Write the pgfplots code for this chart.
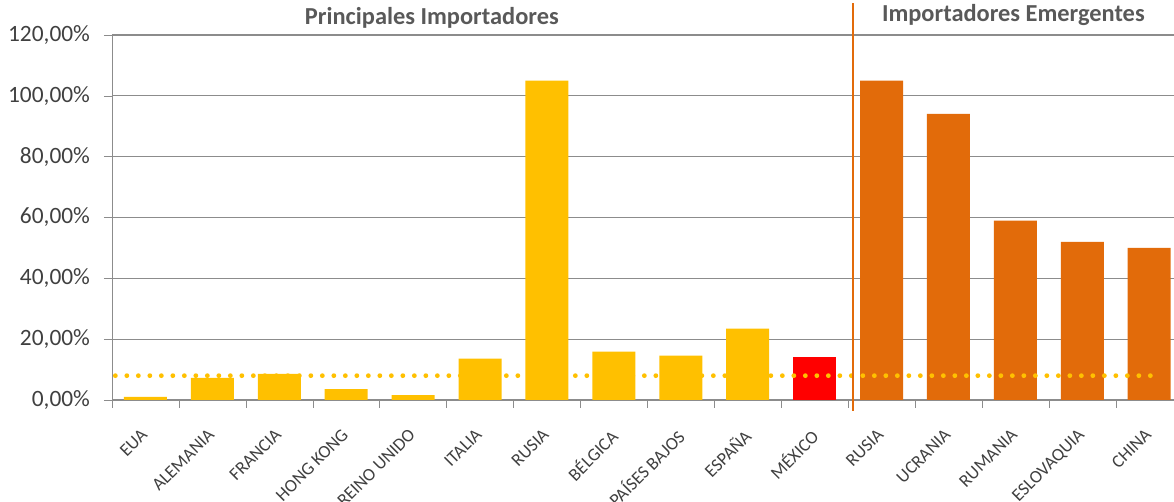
\documentclass[border=0pt]{standalone}
\usepackage{fontspec}
\setmainfont{Carlito}
\usepackage{pgfplots}
\pgfplotsset{compat=1.18}
\definecolor{amarillo}{HTML}{FFC000}
\definecolor{naranja}{HTML}{E26B0A}
\definecolor{rojo}{HTML}{FF0000}
\definecolor{rejilla}{HTML}{8C8C8C}
\definecolor{texto}{HTML}{404040}
\definecolor{titulo}{HTML}{595959}

\begin{document}
\begin{tikzpicture}
\path[use as bounding box] (-56pt,-51pt) rectangle (531pt,200pt);
\begin{axis}[
  scale only axis,
  width=531pt, height=182.5pt,
  xmin=-0.5, xmax=15.37,
  ymin=0, ymax=120,
  clip=false,
  axis x line=bottom, axis y line=left,
  axis line style={rejilla, -},
  ytick={0,20,...,120},
  ymajorgrids, grid style={rejilla, line width=0.6pt},
  ytick style={rejilla}, major tick length=4pt,
  tick align=outside,
  /pgf/number format/assume math mode=true,
  yticklabel={\pgfmathprintnumber[fixed,fixed zerofill,precision=2,use comma]{\tick}\%},
  yticklabel style={font=\fontsize{11.7}{14}\selectfont, text=texto, xshift=-3.5pt},
  xtick={0,...,15},
  xticklabels={EUA, ALEMANIA, FRANCIA, HONG KONG, REINO UNIDO, ITALIA, RUSIA, BÉLGICA, PAÍSES BAJOS, ESPAÑA, MÉXICO, RUSIA, UCRANIA, RUMANIA, ESLOVAQUIA, CHINA},
  xticklabel style={font=\fontsize{9}{10}\selectfont, text=texto, rotate=45, anchor=north east, inner sep=1pt, yshift=-3.9pt, xshift=-7.7pt},
  x tick style={draw=none},
  minor xtick={-0.5,0.5,...,14.5},
  minor x tick style={rejilla, draw=rejilla},
  minor tick length=4pt,
  ybar, bar width=21.5pt, bar shift=0pt,
]
\addplot[fill=amarillo, draw=none] coordinates {
  (0,1.0) (1,7.3) (2,8.6) (3,3.6) (4,1.6) (5,13.6) (6,105.0) (7,15.9) (8,14.6) (9,23.5)
};
\addplot[fill=rojo, draw=none] coordinates {(10,14.2)};
\addplot[fill=naranja, draw=none] coordinates {
  (11,105.0) (12,94.1) (13,59.0) (14,52.0) (15,50.0)
};
\addplot[sharp plot, amarillo, line width=2.4pt, line cap=round, dash pattern=on 0pt off 5.75pt] coordinates {(-0.45,8) (15.05,8)};
\addplot[sharp plot, naranja, line width=1.2pt] coordinates {(10.57,-3.6) (10.57,130.6)};
\node[font=\bfseries\fontsize{12.2}{14}\selectfont, text=titulo] at (axis cs:4.28,125.6) {Principales Importadores};
\node[font=\bfseries\fontsize{12.2}{14}\selectfont, text=titulo] at (axis cs:12.97,126.6) {Importadores Emergentes};
\end{axis}
\end{tikzpicture}
\end{document}
